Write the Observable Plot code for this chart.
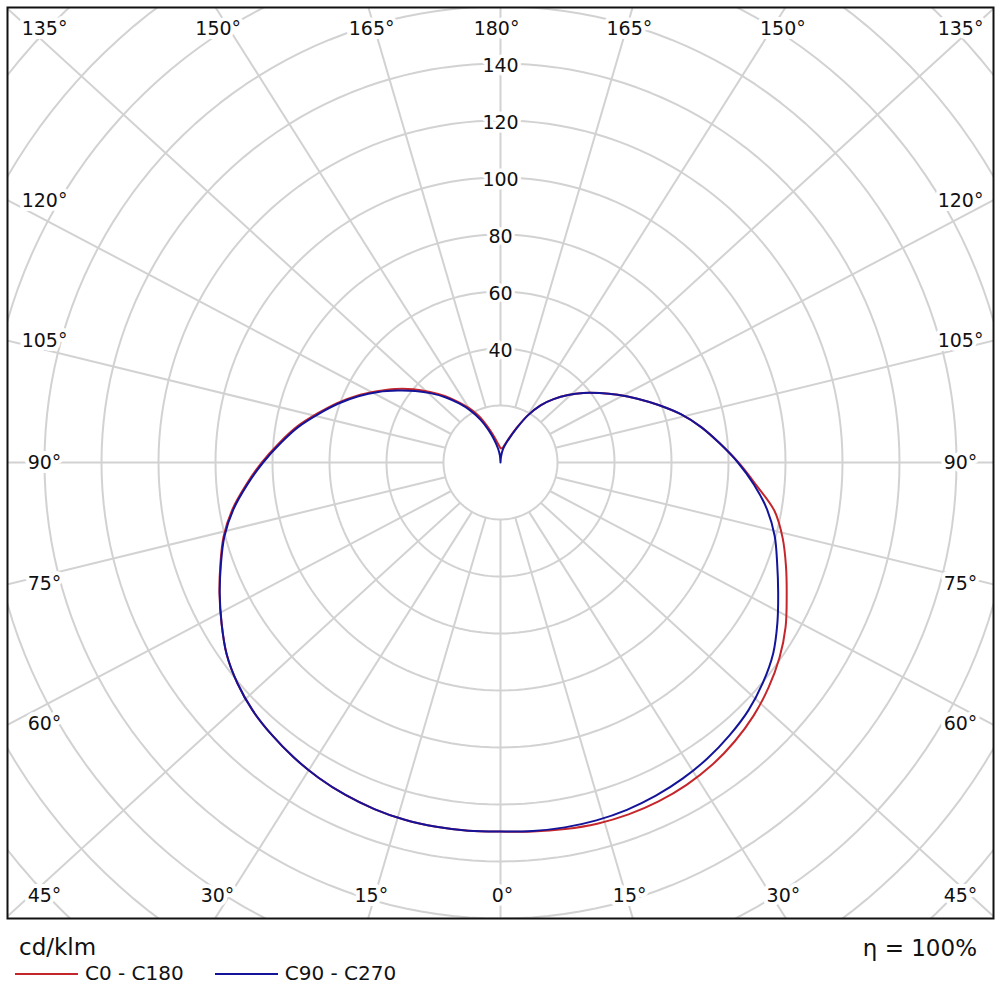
<!DOCTYPE html>
<html><head><meta charset="utf-8">
<script src="https://cdn.jsdelivr.net/npm/d3@7"></script>
<script src="https://cdn.jsdelivr.net/npm/@observablehq/plot@0.6"></script>
<style>
body{margin:0;background:#fff;font-family:"DejaVu Sans",sans-serif;color:#111;}
#wrap{position:relative;width:1000px;height:1000px;}
.ft{position:absolute;white-space:nowrap;line-height:1;}
.sw{display:inline-block;width:63px;height:0;border-top:2px solid;vertical-align:middle;margin-right:7px;position:relative;top:-1px;}
</style></head><body>
<div id="wrap">
<div id="chart"></div>
<div class="ft" id="unit" style="left:19px;top:936px;font-size:23px;"></div>
<div class="ft" id="eta" style="right:23px;top:937px;font-size:23px;"></div>
<div class="ft" id="legend" style="left:15px;top:963px;font-size:20px;"></div>
</div>
<script>
// ---- data ----
const gammas = [0,5,10,15,20,25,30,35,40,45,50,55,60,65,70,75,80,85,90,95,100,105,110,115,120,125,130,135,140,145,150,155,160,165,170,175,180];
const c0   = [129.5,130,130.6,131.2,131.4,131.2,130.6,129.5,127.8,125.6,122.8,119.5,115.5,110.8,106.6,102.5,97.6,90,83.5,77.2,71.5,65.5,59,53,47.5,42.5,38,33.5,29,24.5,19,13.5,9.5,7,5.5,5,5];
const c180 = [129.5,129.7,129.8,129.8,129.4,128.7,127.7,126.4,124.8,123,120.5,117.3,113,108.8,104.6,100.6,95.6,89.6,83.8,78,72.5,66.5,61,55.5,50,45,40,35,30.5,26,22,18,13.5,10,7.5,6,5];
const c90  = [129.5,129.8,130,130,129.7,129,128,126.7,125,123,120.2,116.8,112.2,107.5,103.3,99.6,95,89.3,83.3,77.2,71.5,65.5,59,53,47.5,42.5,38,33.5,29,24.5,19,13,9,6.5,4.5,2,0];
const c270 = [129.5,129.7,129.8,129.8,129.4,128.7,127.7,126.4,124.8,123,120.5,117.3,113,108.7,104.4,100.3,95.2,89.2,83.3,77.5,72,66,60.5,55,49.5,44,39,34.3,29.8,25.3,21,16.5,12,8,5,2.5,0];
const seriesNames = ["C0 - C180","C90 - C270"];
const seriesColors = ["#c4262b","#14149a"];
const ringValues = [20,40,60,80,100,120,140,160,180,200,220,240,260];
const ringLabels = [40,60,80,100,120,140];
const spokeAngles = [0,15,30,45,60,75,90,105,120,135,150,165,180,195,210,225,240,255,270,285,300,315,330,345];
const unitText = "cd/klm";
const etaText = "η = 100%";

// ---- layout ----
const W = 1000, H = 925, M = 7;
const K = 2.85;            // px per cd/klm
const CX = 500, CY = 462;  // pole position in px
const SK = 1.09;           // horizontal spread of the spokes
const rad = d => d * Math.PI / 180;

const xDom = [-(CX - M) / K, (W - M - CX) / K];
const yDom = [-(H - M - CY) / K, (CY - M) / K];

// rings
const ringPts = [];
for (const R of ringValues) for (let a = 0; a <= 360; a += 2)
  ringPts.push({ring: R, x: R * Math.sin(rad(a)), y: R * Math.cos(rad(a))});

// spokes
const spokes = spokeAngles.map(a => ({
  x1: 20 * Math.sin(rad(a)), y1: -20 * Math.cos(rad(a)),
  x2: 400 * SK * Math.sin(rad(a)), y2: -400 * Math.cos(rad(a))
}));

// angle labels: where spoke meets frame, pulled inward
const lx = (CX - 42) / K, lyT = (CY - 28) / K, lyB = (895 - CY) / K;
const fx = (CX - M) / K, fyT = (CY - M) / K, fyB = (H - M - CY) / K;
const angleLbl = spokeAngles.map(a => {
  const dx = SK * Math.sin(rad(a)), dy = -Math.cos(rad(a));
  let t = Infinity;
  if (Math.abs(dx) > 1e-9) t = Math.min(t, fx / Math.abs(dx));
  if (dy > 1e-9) t = Math.min(t, fyT / dy);
  if (dy < -1e-9) t = Math.min(t, fyB / -dy);
  let x = dx * t, y = dy * t;
  const side = Math.abs(x) >= lx;
  x = Math.max(-lx, Math.min(lx, x));
  y = Math.max(-lyB, Math.min(lyT, y));
  const v = a <= 180 ? a : 360 - a;
  return {x, y, label: v + "°", shift: side ? 2 : (x > 0 ? -4 : (x < 0 ? 4 : 2))};
});

// curves
function curve(right, left, name) {
  const pts = [];
  for (let i = gammas.length - 1; i >= 0; i--) {
    const g = rad(gammas[i]);
    pts.push({s: name, x: right[i] * Math.sin(g), y: -right[i] * Math.cos(g)});
  }
  for (let i = 1; i < gammas.length; i++) {
    const g = rad(gammas[i]);
    pts.push({s: name, x: -left[i] * Math.sin(g), y: -left[i] * Math.cos(g)});
  }
  return pts;
}
const curveA = curve(c0, c180, seriesNames[0]);
const curveB = curve(c90, c270, seriesNames[1]);

const chart = Plot.plot({
  width: W, height: H,
  marginLeft: M, marginRight: M, marginTop: M, marginBottom: M,
  x: {domain: xDom, range: [M, W - M], axis: null},
  y: {domain: yDom, range: [H - M, M], axis: null},
  style: {fontFamily: "DejaVu Sans, sans-serif", background: "#fff"},
  marks: [
    Plot.line(ringPts, {x: "x", y: "y", z: "ring", stroke: "#d2d2d2", strokeWidth: 2, clip: "frame"}),
    Plot.link(spokes, {x1: "x1", y1: "y1", x2: "x2", y2: "y2", stroke: "#d2d2d2", strokeWidth: 2, clip: "frame"}),
    Plot.text(ringLabels, {x: 0, y: d => d, text: d => String(d), fontSize: 19, fill: "#111", stroke: "#fff", strokeWidth: 7, dy: 2}),
    ...angleLbl.map(d => Plot.text([d], {x: "x", y: "y", text: "label", fontSize: 19, fill: "#111", stroke: "#fff", strokeWidth: 8, dx: d.shift})),
    Plot.line(curveA, {x: "x", y: "y", stroke: seriesColors[0], strokeWidth: 2, curve: "catmull-rom"}),
    Plot.line(curveB, {x: "x", y: "y", stroke: seriesColors[1], strokeWidth: 2, curve: "catmull-rom"}),
    Plot.frame({stroke: "#111", strokeWidth: 2})
  ]
});
document.getElementById("chart").appendChild(chart);

document.getElementById("unit").textContent = unitText;
document.getElementById("eta").textContent = etaText;
const leg = document.getElementById("legend");
seriesNames.forEach((n, i) => {
  const item = document.createElement("span");
  item.style.marginRight = i === 0 ? "31px" : "0";
  const sw = document.createElement("span");
  sw.className = "sw"; sw.style.borderTopColor = seriesColors[i];
  item.appendChild(sw);
  item.appendChild(document.createTextNode(n));
  leg.appendChild(item);
});
</script>
</body></html>
